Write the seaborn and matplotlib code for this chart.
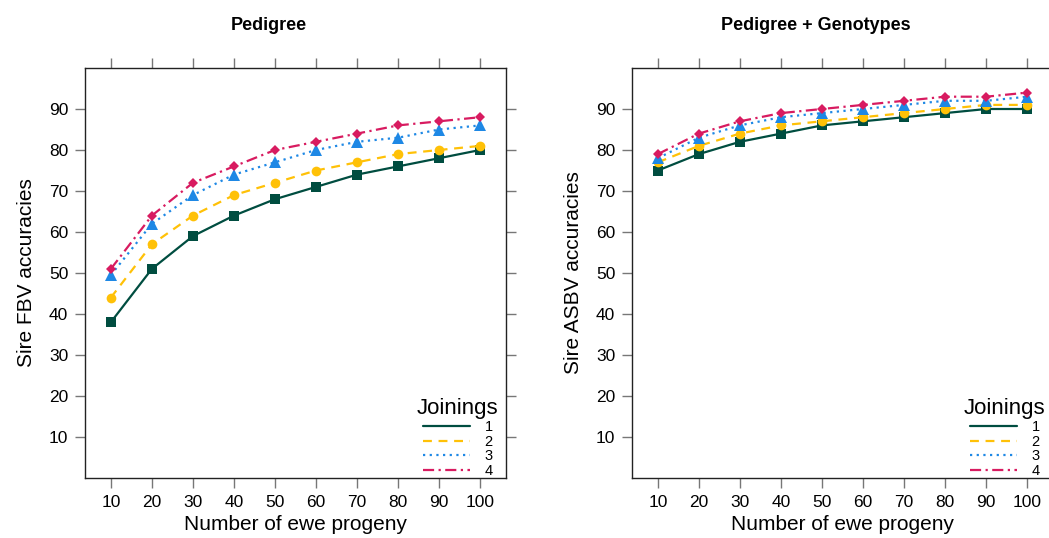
import matplotlib
matplotlib.use("Agg")
import matplotlib.pyplot as plt
from matplotlib.lines import Line2D
import seaborn as sns
import pandas as pd

progeny = [10, 20, 30, 40, 50, 60, 70, 80, 90, 100]
joinings = ["1", "2", "3", "4"]

ped_j1 = [38, 51, 59, 64, 68, 71, 74, 76, 78, 80]
ped_j2 = [44, 57, 64, 69, 72, 75, 77, 79, 80, 81]
ped_j3 = [49.5, 62, 69, 74, 77, 80, 82, 83, 85, 86]
ped_j4 = [51, 64, 72, 76, 80, 82, 84, 86, 87, 88]

gen_j1 = [75, 79, 82, 84, 86, 87, 88, 89, 90, 90]
gen_j2 = [77, 81, 84, 86, 87, 88, 89, 90, 91, 91]
gen_j3 = [78, 83, 86, 88, 89, 90, 91, 92, 92, 93]
gen_j4 = [79, 84, 87, 89, 90, 91, 92, 93, 93, 94]

titles = ["Pedigree", "Pedigree + Genotypes"]
ylabels = ["Sire FBV accuracies", "Sire ASBV accuracies"]
xlabel = "Number of ewe progeny"
legend_title = "Joinings"

colors = {"1": "#004D40", "2": "#FFC107", "3": "#1E88E5", "4": "#D81B60"}
dashes = {"1": "", "2": (4, 3), "3": (1, 2), "4": (5, 2, 1, 2)}
markers = {"1": "s", "2": "o", "3": "^", "4": "D"}
msizes = {"1": 7, "2": 7, "3": 8, "4": 5.5}


def make_df(series):
    rows = []
    for j, vals in zip(joinings, series):
        for x, v in zip(progeny, vals):
            rows.append({"Progeny": x, "Accuracy": v, "Joinings": j})
    return pd.DataFrame(rows)


dfs = [make_df([ped_j1, ped_j2, ped_j3, ped_j4]),
       make_df([gen_j1, gen_j2, gen_j3, gen_j4])]

sns.set_style("white")
plt.rcParams["font.family"] = ["Liberation Sans", "DejaVu Sans"]
plt.rcParams["text.color"] = "black"
plt.rcParams["axes.labelcolor"] = "black"
plt.rcParams["xtick.color"] = "black"
plt.rcParams["ytick.color"] = "black"

fig = plt.figure(figsize=(10.49, 5.38), dpi=100)
W, H = 1049, 538
axes = [fig.add_axes([85 / W, 1 - 478 / H, (506 - 85) / W, (478 - 68) / H]),
        fig.add_axes([632 / W, 1 - 478 / H, (1053 - 632) / W, (478 - 68) / H])]
title_x = [269, 816]

for ax, df, title, ylab, tx in zip(axes, dfs, titles, ylabels, title_x):
    sns.lineplot(data=df, x="Progeny", y="Accuracy", hue="Joinings",
                 style="Joinings", palette=colors, dashes=dashes,
                 markers=markers, markersize=7, markeredgewidth=0,
                 linewidth=1.6, ax=ax, legend=False)
    for line, j in zip(ax.get_lines(), joinings):
        line.set_markersize(msizes[j])
    ax.set_xlim(10 - 6.3, 100 + 6.3)
    ax.set_ylim(0, 100)
    ax.set_xticks(progeny)
    ax.set_yticks(range(10, 100, 10))
    ax.tick_params(axis="both", which="both", direction="out", length=7,
                   width=1, color="#777777", labelcolor="black",
                   labelsize=12.5, pad=5,
                   top=True, right=True, bottom=True, left=True,
                   labeltop=False, labelright=False)
    for sp in ax.spines.values():
        sp.set_visible(True)
        sp.set_color("#222222")
        sp.set_linewidth(1.0)
    ax.set_xlabel(xlabel, fontsize=15, labelpad=4)
    ax.set_ylabel(ylab, fontsize=15, labelpad=9)
    fig.text(tx / W, 1 - 25 / H, title, fontsize=13, fontweight="bold",
             ha="center", va="center", color="black")
    handles = [Line2D([0], [0], color=colors[j], lw=1.6, dashes=dashes[j])
               if dashes[j] else Line2D([0], [0], color=colors[j], lw=1.6)
               for j in joinings]
    ax.legend(handles, joinings, title=legend_title, loc="lower right",
              frameon=False, fontsize=10.5, title_fontsize=16,
              handlelength=3.2, labelspacing=0.05, handletextpad=1.0,
              borderaxespad=0.1, bbox_to_anchor=(1.0, -0.018))

fig.savefig("out.png", dpi=100)
